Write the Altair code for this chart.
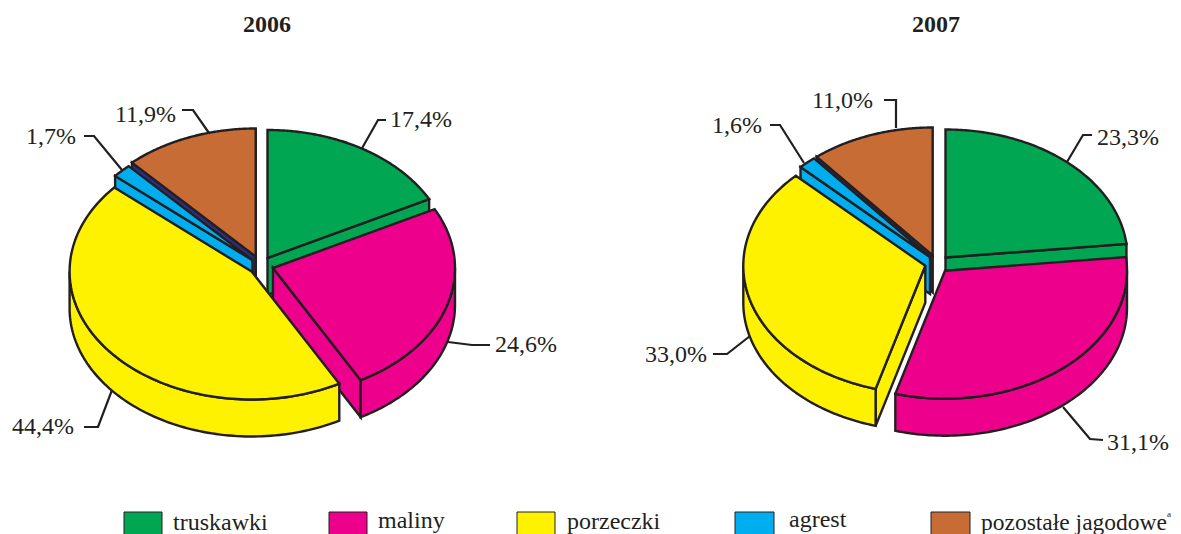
import numpy as np
import pandas as pd
import altair as alt

categories = ["truskawki", "maliny", "porzeczki", "agrest", "pozostałe jagodowe"]
colors = ["#00a651", "#ec008c", "#fff200", "#00aeef", "#c86c36"]
shares_2006 = [17.4, 24.6, 44.4, 1.7, 11.9]
shares_2007 = [23.3, 31.1, 33.0, 1.6, 11.0]

# layout: explosion apex of every slice, in picture pixels
apex_2006 = [(267.5, 258), (273, 268), (251.6, 271.5), (252.4, 260), (255.7, 256.5)]
apex_2007 = [(945.5, 257.5), (945, 270.7), (925.3, 265.7), (930, 257), (932.7, 255.5)]
RX, RY, DEPTH = 182, 128, 37
INK = "#231f20"
STRIP = "#2e2d7f"

leaders_2006 = [
    [(361, 150), (378, 120), (386, 120)],
    [(448, 342), (472, 345), (490, 345)],
    [(112, 390), (98, 427), (84, 427)],
    [(122, 170), (94, 136), (84, 136)],
    [(209, 133), (193, 110), (182, 110)],
]
leaders_2007 = [
    [(1067, 162), (1083, 135), (1092, 135)],
    [(1063, 407), (1090, 439), (1103, 440)],
    [(750, 336), (727, 354), (713, 354)],
    [(804, 163), (780, 125), (770, 125)],
    [(896, 128), (896, 100), (884, 100)],
]
label_pos_2006 = [(390, 120), (495, 345), (12, 427), (26, 137), (115, 115)]
label_pos_2007 = [(1097, 138), (1107, 443), (645, 355), (712, 126), (812, 101)]

titles = [("2006", 267, 25), ("2007", 936, 25)]
legend_boxes = [(124, 162), (329, 367), (517, 555), (735, 774), (931, 970)]
legend_text = [(173, 523), (378, 521), (567, 522), (789, 520), (981, 523)]
legend_text_sizes = [24, 24, 24, 24, 23.5]

XS = alt.Scale(domain=[8, 1173], nice=False, zero=False)
YS = alt.Scale(domain=[534, 8], nice=False, zero=False)


def xenc(f="x"):
    return alt.X(f"{f}:Q", scale=XS, axis=None)


def yenc(f="y"):
    return alt.Y(f"{f}:Q", scale=YS, axis=None)


def polygon(pts, fill):
    df = pd.DataFrame(pts, columns=["x", "y"])
    df["i"] = range(len(df))
    return alt.Chart(df).mark_line(
        interpolate="linear-closed", fill=fill, stroke=INK, strokeWidth=2.4,
        strokeJoin="miter", clip=True,
    ).encode(x=xenc(), y=yenc(), order=alt.Order("i:Q"))


def rim(apex, deg, drop=0):
    t = np.radians(deg)
    return (apex[0] + RX * np.sin(t), apex[1] - RY * np.cos(t) + drop)


def pie_layers(shares, apexes):
    out = []
    edges = np.cumsum([0] + shares) * 3.6
    for k in [4, 3, 0, 1, 2]:
        a, b = edges[k], edges[k + 1]
        ap = apexes[k]
        apd = (ap[0], ap[1] + DEPTH)
        side = STRIP if k == 4 else colors[k]
        faces = []
        if np.cos(np.radians(a - 90 - 180)) > 0:
            faces.append([ap, rim(ap, a), rim(ap, a, DEPTH), apd])
        if np.cos(np.radians(b + 90 - 180)) > 0:
            faces.append([ap, rim(ap, b), rim(ap, b, DEPTH), apd])
        for f in faces:
            out.append(polygon(f, side))
        w0, w1 = max(a, 90), min(b, 270)
        if w1 > w0:
            arc = np.linspace(w0, w1, 90)
            pts = [rim(ap, d) for d in arc] + [rim(ap, d, DEPTH) for d in arc[::-1]]
            out.append(polygon(pts, colors[k]))
        arc = np.linspace(a, b, 120)
        out.append(polygon([ap] + [rim(ap, d) for d in arc], colors[k]))
    return out


def polyline(pts):
    df = pd.DataFrame(pts, columns=["x", "y"])
    df["i"] = range(len(df))
    return alt.Chart(df).mark_line(stroke=INK, strokeWidth=2.2).encode(
        x=xenc(), y=yenc(), order=alt.Order("i:Q"))


def fmt(v):
    return f"{v:.1f}%".replace(".", ",")


layers = []
for sh, ap, lead in [(shares_2006, apex_2006, leaders_2006), (shares_2007, apex_2007, leaders_2007)]:
    layers += [polyline(l) for l in lead]
    layers += pie_layers(sh, ap)

labels = pd.DataFrame(
    [(p[0], p[1], fmt(v)) for p, v in zip(label_pos_2006, shares_2006)]
    + [(p[0], p[1], fmt(v)) for p, v in zip(label_pos_2007, shares_2007)],
    columns=["x", "y", "t"],
)
layers.append(
    alt.Chart(labels).mark_text(font="Liberation Serif", fontSize=24, align="left",
                                baseline="middle", color=INK)
    .encode(x=xenc(), y=yenc(), text="t:N")
)

title_df = pd.DataFrame(titles, columns=["t", "x", "y"])
layers.append(
    alt.Chart(title_df).mark_text(font="Liberation Serif", fontSize=24, fontWeight="bold",
                                  align="center", baseline="middle", color=INK)
    .encode(x=xenc(), y=yenc(), text="t:N")
)

box_df = pd.DataFrame({
    "x": [b[0] for b in legend_boxes], "x2": [b[1] for b in legend_boxes],
    "y": [512] * 5, "y2": [545] * 5, "c": colors,
})
layers.append(
    alt.Chart(box_df).mark_rect(stroke=INK, strokeWidth=1, clip=True).encode(
        x=xenc(), x2="x2:Q", y=yenc(), y2="y2:Q",
        fill=alt.Fill("c:N", scale=None),
    )
)
leg_df = pd.DataFrame({
    "x": [p[0] for p in legend_text], "y": [p[1] for p in legend_text], "t": categories,
    "s": legend_text_sizes,
})
layers.append(
    alt.Chart(leg_df).mark_text(font="Liberation Serif", align="left",
                                baseline="middle", color=INK)
    .encode(x=xenc(), y=yenc(), text="t:N", size=alt.Size("s:Q", scale=None, legend=None))
)
layers.append(
    alt.Chart(pd.DataFrame({"x": [1167], "y": [514], "t": ["a"]}))
    .mark_text(font="Liberation Serif", fontSize=9, align="left", baseline="middle", color=INK)
    .encode(x=xenc(), y=yenc(), text="t:N")
)

chart = alt.layer(*layers).properties(
    width=1165, height=526, padding=0, background="white",
    autosize=alt.AutoSizeParams(type="none"),
).configure_view(stroke=None)

chart.save("out.html", embed_options={"renderer": "svg", "actions": False})
